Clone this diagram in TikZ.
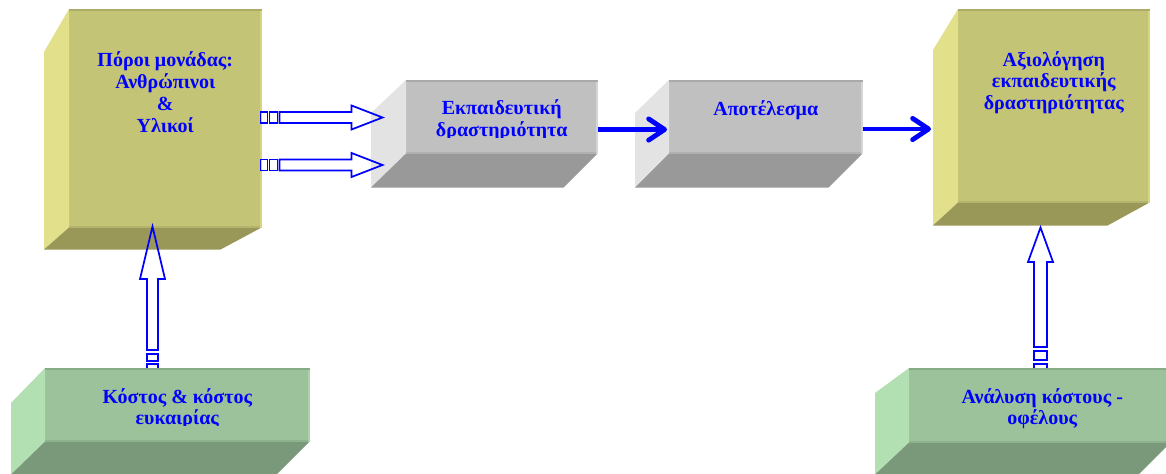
\documentclass[tikz,border=0pt]{standalone}
\usepackage{fontspec}
\setmainfont{Liberation Serif}
\usetikzlibrary{calc,arrows.meta}
\definecolor{oliveF}{RGB}{196,196,118}
\definecolor{oliveL}{RGB}{226,224,138}
\definecolor{oliveB}{RGB}{154,152,88}
\definecolor{grayF}{RGB}{192,192,192}
\definecolor{grayL}{RGB}{227,227,227}
\definecolor{grayB}{RGB}{153,153,153}
\definecolor{greenF}{RGB}{155,194,154}
\definecolor{greenL}{RGB}{179,224,179}
\definecolor{greenB}{RGB}{122,152,122}
\definecolor{txtblue}{RGB}{0,0,255}
% #1 node name, #2 colour prefix, #3 back top-left offset, #4 back bottom-left offset, #5 back bottom-right offset
\newcommand{\prismsides}[5]{%
  \fill[#2L] (#1.north west) -- ++(#3) -- ($(#1.south west)+(#4)$) -- (#1.south west) -- cycle;
  \fill[#2B] (#1.south west) -- ($(#1.south west)+(#4)$) -- ($(#1.south east)+(#5)$) -- (#1.south east) -- cycle;
  \fill[#2F!88!black] (#1.north west) rectangle ($(#1.north east)+(0,2)$);
  \fill[#2F!92!black] ($(#1.south west)+(0,-2)$) rectangle (#1.south east);
  \fill[#2L!60!#2F] ($(#1.north east)+(-2,2)$) rectangle (#1.south east);}
% horizontal hollow block arrow starting at coordinate #1
\newcommand{\hblockarrow}[1]{%
  \draw[barrow] ($(#1)+(0,-5.5)$) rectangle ++(7,11);
  \draw[barrow] ($(#1)+(9,-5.5)$) rectangle ++(8,11);
  \draw[barrow] ($(#1)+(19,-5.5)$) -- ++(72,0) -- ++(0,-6.5) -- ($(#1)+(122,0)$)
     -- ($(#1)+(91,12)$) -- ++(0,-6.5) -- ($(#1)+(19,5.5)$) -- cycle;}
\begin{document}
\begin{tikzpicture}[x=0.75pt,y=-0.75pt,
  face/.style={rectangle, inner sep=0pt, anchor=north west, draw=none},
  boxtext/.style={font=\bfseries\fontsize{15}{16.3}\selectfont, text=txtblue,
                  align=center, inner sep=0pt, anchor=north},
  barrow/.style={draw=txtblue, line width=1.3pt, line join=miter},
  flowarrow/.style={draw=txtblue, line width=3.6pt,
                    -{Straight Barb[length=12pt,width=16pt,round]}}]
\fill[white] (0,0) rectangle (1166,474);
\useasboundingbox (0,0) rectangle (1166,474);

% box 1: resources
\node[face, fill=oliveF, minimum width=144pt, minimum height=163.5pt] (b1) at (69,9) {};
\prismsides{b1}{olive}{-25,43}{-25,22}{-41,22}
\node[boxtext] (t1) at ($(b1.north)+(0,41)$)
  {\rule{0pt}{12.5pt}Πόροι μονάδας:\\Ανθρώπινοι\\\&\\Υλικοί};

% box 2: educational activity
\node[face, fill=grayF, minimum width=143.25pt, minimum height=54.75pt] (b2) at (406,80) {};
\prismsides{b2}{gray}{-35,33}{-35,34}{-34,34}
\begin{scope}
  \clip (b2.north west) rectangle ($(b2.south east)+(0,-16.5)$);
  \node[boxtext] (t2) at ($(b2.north)+(0,17.8)$)
    {\rule{0pt}{12.5pt}Εκπαιδευτική\\δραστηριότητα};
\end{scope}

% box 3: result
\node[face, fill=grayF, minimum width=144.75pt, minimum height=54.75pt] (b3) at (669,80) {};
\prismsides{b3}{gray}{-34,33}{-34,34}{-34,34}
\node[boxtext] (t3) at ($(b3.north)+(0,18.3)$) {\rule{0pt}{12.5pt}Αποτέλεσμα};

% box 4: evaluation
\node[face, fill=oliveF, minimum width=143.25pt, minimum height=144.75pt] (b4) at (958,9) {};
\prismsides{b4}{olive}{-25,41}{-25,23}{-42,23}
\node[boxtext] (t4) at ($(b4.north)+(0,40.3)$)
  {\rule{0pt}{12.5pt}Αξιολόγηση\\εκπαιδευτικής\\δραστηριότητας};

% horizontal block arrows box1 -> box2
\coordinate (a1) at ($(b1.north east)+(-1,108.5)$);
\coordinate (a2) at ($(b1.north east)+(-1,156)$);
\hblockarrow{a1}
\hblockarrow{a2}

% flow arrows
\draw[flowarrow] ($(b2.south east)+(0,-24)$) -- ($(b3.south west)+(-2,-24)$);
\draw[flowarrow] ($(b3.south east)+(0,-24.5)$) -- ($(b4.south west |- b3.south east)+(-27,-24.5)$);

% vertical block arrows (drawn before the lower boxes)
\coordinate (v1) at (152.5,371);
\draw[barrow] ($(v1)+(-5.5,0)$) rectangle ++(11,-7);
\draw[barrow] ($(v1)+(-5.5,-10)$) rectangle ++(11,-7);
\draw[barrow] ($(v1)+(-5.5,-21)$) -- ++(0,-71) -- ++(-7,0) -- ($(b1.south -| v1)+(0,-1)$)
   -- ($(v1)+(12.5,-92)$) -- ++(-7,0) -- ($(v1)+(5.5,-21)$) -- cycle;
\coordinate (v2) at (1040.5,369);
\draw[barrow] ($(v2)+(-6.5,0)$) rectangle ++(13,-5);
\draw[barrow] ($(v2)+(-6.5,-9)$) rectangle ++(13,-9);
\draw[barrow] ($(v2)+(-6.5,-22)$) -- ++(0,-85) -- ++(-6,0) -- ($(b4.south -| v2)+(0,25)$)
   -- ($(v2)+(12.5,-107)$) -- ++(-6,0) -- ($(v2)+(6.5,-22)$) -- cycle;

% box 5: cost
\node[face, fill=greenF, minimum width=198pt, minimum height=54.75pt] (b5) at (45,368) {};
\prismsides{b5}{green}{-34,35}{-34,33}{-33,33}
\begin{scope}
  \clip (b5.north west) rectangle ($(b5.south east)+(0,-16)$);
  \node[boxtext] (t5) at ($(b5.north)+(0,18.3)$)
    {\rule{0pt}{12.5pt}Κόστος \& κόστος\\ευκαιρίας};
\end{scope}

% box 6: cost-benefit analysis
\node[face, fill=greenF, minimum width=195.75pt, minimum height=55.5pt] (b6) at (909,368) {};
\prismsides{b6}{green}{-34,25}{-34,32}{-32,32}
\node[boxtext] (t6) at ($(b6.north)+(2.5,18.3)$)
  {\rule{0pt}{12.5pt}Ανάλυση κόστους -\\οφέλους};
\end{tikzpicture}
\end{document}
